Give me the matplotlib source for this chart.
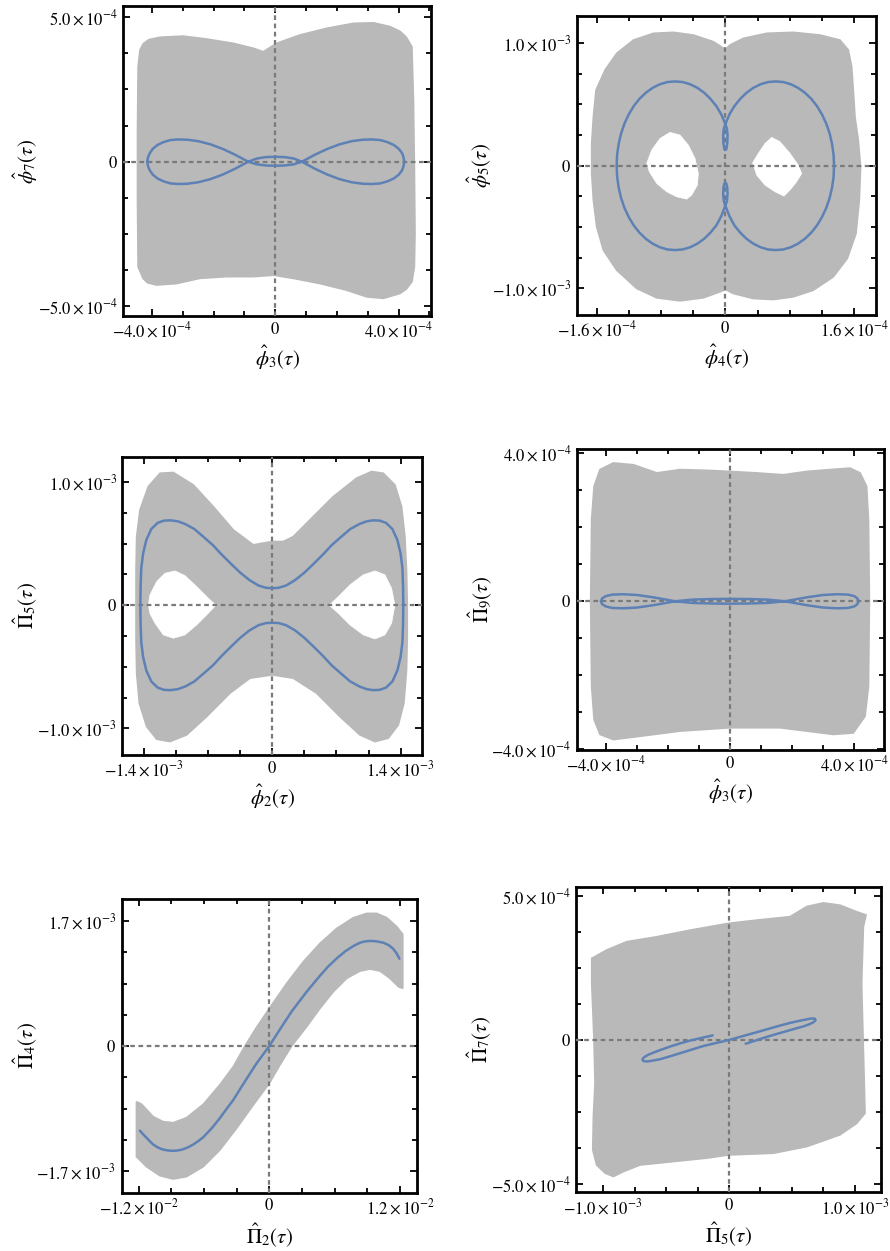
import matplotlib.pyplot as plt
from matplotlib.ticker import MultipleLocator

# Serif look for text and math
plt.rcParams['font.family'] = ['Liberation Serif', 'DejaVu Serif']
plt.rcParams['mathtext.fontset'] = 'stix'

GRAY = '#b9b9b9'
BLUE = '#5e81b5'
DASH = '#7a7a7a'

# ---------------- data ----------------
# panel 1: phi3 (x 1e-4) vs phi7 (x 1e-4)
p1_cloud = [(-4.39, 3.86), (-4.28, 4.08), (-4.10, 4.22), (-3.74, 4.30), (-2.99, 4.34),
            (-2.23, 4.24), (-1.36, 4.09), (-0.71, 3.92), (-0.39, 3.80), (0.04, 4.09),
            (0.80, 4.38), (1.67, 4.61), (2.53, 4.78), (3.18, 4.80), (3.72, 4.67), (4.05, 4.50),
            (4.25, 4.30), (4.43, 3.97), (4.48, 2.13), (4.51, -0.17), (4.53, -2.48),
            (4.51, -3.63), (4.43, -4.15), (4.25, -4.40), (4.05, -4.55), (3.51, -4.72),
            (2.97, -4.67), (2.32, -4.44), (1.45, -4.21), (0.58, -4.03), (-0.06, -3.92),
            (-0.71, -3.97), (-1.58, -3.97), (-2.45, -4.03), (-3.20, -4.21), (-3.85, -4.26),
            (-4.15, -4.18), (-4.29, -4.03), (-4.45, -3.63), (-4.47, -1.32), (-4.47, 0.98),
            (-4.45, 3.28)]
p1_orbit = [(-4.15, 0), (-4.13, 0.15), (-4.07, 0.30), (-3.97, 0.45), (-3.82, 0.58),
            (-3.62, 0.68), (-3.40, 0.75), (-3.15, 0.77), (-2.85, 0.76), (-2.50, 0.71),
            (-2.10, 0.60), (-1.70, 0.44), (-1.30, 0.24), (-0.88, 0), (-0.60, -0.09),
            (-0.30, -0.13), (0, -0.14), (0.30, -0.13), (0.60, -0.09), (0.86, 0),
            (1.28, -0.24), (1.68, -0.44), (2.08, -0.60), (2.48, -0.71), (2.83, -0.76),
            (3.13, -0.77), (3.40, -0.75), (3.63, -0.68), (3.84, -0.58), (4.00, -0.45),
            (4.11, -0.30), (4.16, -0.15), (4.18, 0), (4.16, 0.15), (4.11, 0.30), (4.00, 0.45),
            (3.84, 0.58), (3.63, 0.68), (3.40, 0.75), (3.13, 0.77), (2.83, 0.76), (2.48, 0.71),
            (2.08, 0.60), (1.68, 0.44), (1.28, 0.24), (0.86, 0), (0.60, 0.11), (0.30, 0.16),
            (0, 0.17), (-0.30, 0.16), (-0.60, 0.11), (-0.88, 0), (-1.30, -0.24),
            (-1.70, -0.44), (-2.10, -0.60), (-2.50, -0.71), (-2.85, -0.76), (-3.15, -0.77),
            (-3.40, -0.75), (-3.62, -0.68), (-3.82, -0.58), (-3.97, -0.45), (-4.07, -0.30),
            (-4.13, -0.15), (-4.15, 0)]

# panel 2: phi4 (x 1e-5) vs phi5 (x 1e-4)
p2_cloud = [(0, 9.48), (-1.49, 10.11), (-3.97, 10.65), (-6.46, 10.87), (-8.94, 10.79),
            (-11.42, 10.24), (-13.49, 9.16), (-14.94, 7.80), (-16.06, 6.17), (-16.39, 3.99),
            (-16.60, 1.82), (-16.60, -0.63), (-16.39, -2.80), (-15.98, -4.97), (-15.15, -6.88),
            (-13.49, -8.51), (-11.01, -10.0), (-8.53, -10.76), (-5.63, -11.01), (-2.73, -10.76),
            (-0.66, -10.27), (0, -10.08), (0.99, -10.41), (3.48, -10.82), (5.96, -10.90),
            (8.44, -10.68), (10.93, -10.14), (13.41, -9.05), (15.15, -7.55), (16.23, -5.52),
            (16.64, -2.80), (16.80, -0.08), (16.51, 2.09), (16.10, 3.99), (15.89, 6.17),
            (15.69, 8.07), (15.27, 9.43), (14.24, 10.24), (11.75, 10.65), (8.44, 10.87),
            (5.13, 10.79), (2.24, 10.38), (0.58, 9.84)]
p2_hole_left = [(-9.77, 0.19), (-9.15, 1.28), (-8.11, 2.23), (-6.87, 2.72), (-5.63, 2.5),
                (-4.59, 1.68), (-3.77, 0.6), (-3.35, -0.63), (-3.48, -1.58), (-4.18, -2.39),
                (-4.8, -2.72), (-6.04, -2.53), (-7.28, -2.12), (-8.53, -1.44), (-9.44, -0.49)]
p2_hole_right = [(3.39, 0.24), (4.1, 1.01), (4.93, 1.82), (5.75, 2.31), (6.79, 1.96),
                 (8.03, 1.01), (9.06, 0.05), (9.48, -0.63), (8.86, -1.3), (8.03, -1.98),
                 (7.28, -2.47), (6.17, -2.12), (4.93, -1.58), (3.89, -0.76)]
p2_orbit = [(0, 3.4), (-0.5, 4.18), (-1.12, 4.86), (-1.85, 5.45), (-2.63, 5.95), (-3.48, 6.35),
            (-4.37, 6.64), (-5.3, 6.82), (-6.25, 6.87), (-7.2, 6.82), (-8.13, 6.64),
            (-9.02, 6.35), (-9.88, 5.95), (-10.67, 5.45), (-11.38, 4.86), (-12.0, 4.18),
            (-12.53, 3.44), (-12.95, 2.63), (-13.25, 1.78), (-13.44, 0.9), (-13.5, 0),
            (-13.44, -0.9), (-13.25, -1.78), (-12.95, -2.63), (-12.53, -3.44), (-12.0, -4.18),
            (-11.38, -4.86), (-10.67, -5.45), (-9.88, -5.95), (-9.02, -6.35), (-8.13, -6.64),
            (-7.2, -6.82), (-6.25, -6.87), (-5.3, -6.82), (-4.37, -6.64), (-3.48, -6.35),
            (-2.63, -5.95), (-1.85, -5.45), (-1.12, -4.86), (-0.5, -4.1), (0, -3.25),
            (0.2, -2.85), (0.27, -2.3), (0.24, -1.8), (0.12, -1.45), (0, -1.39),
            (-0.12, -1.45), (-0.24, -1.8), (-0.27, -2.3), (-0.2, -2.85), (0, -3.25),
            (0.5, -4.1), (1.12, -4.86), (1.85, -5.45), (2.63, -5.95), (3.48, -6.35),
            (4.37, -6.64), (5.3, -6.82), (6.25, -6.87), (7.2, -6.82), (8.13, -6.64),
            (9.02, -6.35), (9.88, -5.95), (10.67, -5.45), (11.38, -4.86), (12.0, -4.18),
            (12.53, -3.44), (12.95, -2.63), (13.25, -1.78), (13.44, -0.9), (13.5, 0),
            (13.44, 0.9), (13.25, 1.78), (12.95, 2.63), (12.53, 3.44), (12.0, 4.18),
            (11.38, 4.86), (10.67, 5.45), (9.88, 5.95), (9.02, 6.35), (8.13, 6.64),
            (7.2, 6.82), (6.25, 6.87), (5.3, 6.82), (4.37, 6.64), (3.48, 6.35), (2.63, 5.95),
            (1.85, 5.45), (1.12, 4.86), (0.5, 4.18), (0, 3.4), (-0.2, 3.0), (-0.27, 2.45),
            (-0.24, 1.85), (-0.12, 1.35), (0, 1.28), (0.12, 1.35), (0.24, 1.85),
            (0.27, 2.45), (0.2, 3.0), (0, 3.4)]

# panel 3: phi2 (x 1e-4) vs Pi5 (x 1e-4)
p3_cloud = [(0, 5.18), (-2.07, 4.91), (-4.25, 6.12), (-6.44, 8.02), (-8.62, 9.78),
            (-10.8, 10.79), (-12.25, 10.73), (-13.53, 9.65), (-14.44, 7.75), (-14.8, 5.58),
            (-14.87, 2.87), (-14.87, 0), (-14.87, -2.82), (-14.8, -5.53), (-14.51, -7.97),
            (-13.71, -9.86), (-12.62, -10.89), (-11.16, -11.08), (-9.35, -10.54), (-7.16, -9.05),
            (-4.62, -7.15), (-2.44, -5.93), (0, -5.66), (2.29, -5.93), (4.84, -7.15),
            (7.38, -9.05), (9.56, -10.54), (11.2, -11.08), (12.65, -10.81), (13.75, -9.73),
            (14.36, -7.97), (14.65, -5.26), (14.73, -2.55), (14.73, 0), (14.65, 2.87),
            (14.47, 5.58), (14.11, 8.02), (13.38, 9.78), (12.11, 10.73), (10.84, 10.87),
            (9.2, 10.33), (6.65, 8.83), (4.47, 7.21), (2.29, 5.58), (1.2, 5.18)]
p3_hole_left = [(-13.53, 0), (-13.35, 0.84), (-12.62, 1.92), (-11.71, 2.6), (-10.62, 2.79),
                (-9.53, 2.41), (-8.25, 1.52), (-6.98, 0.57), (-6.15, 0), (-6.98, -0.65),
                (-8.25, -1.6), (-9.53, -2.41), (-10.8, -2.68), (-11.89, -2.41), (-12.8, -1.46),
                (-13.35, -0.68)]
p3_hole_right = [(6.22, 0), (7.2, 0.7), (8.47, 1.65), (9.93, 2.47), (11.2, 2.79), (12.29, 2.47),
                 (13.02, 1.38), (13.38, 0), (13.02, -1.46), (12.29, -2.41), (11.2, -2.74),
                 (9.93, -2.41), (8.47, -1.6), (7.2, -0.65)]
p3_orbit = [(14.29, 0), (14.27, 1.5), (14.2, 3.0), (14.0, 4.2), (13.65, 5.3), (13.1, 6.2),
            (12.4, 6.7), (11.7, 6.88), (11.0, 6.9), (10.3, 6.82), (9.5, 6.6), (8.5, 6.19),
            (7.5, 5.55), (6.5, 4.9), (5.5, 4.1), (4.5, 3.36), (3.5, 2.65), (2.5, 2.05),
            (1.5, 1.6), (0.7, 1.42), (0, 1.38), (-0.7, 1.42), (-1.5, 1.6), (-2.5, 2.05),
            (-3.5, 2.65), (-4.5, 3.36), (-5.5, 4.1), (-6.5, 4.9), (-7.5, 5.55), (-8.5, 6.19),
            (-9.5, 6.6), (-10.3, 6.82), (-11.1, 6.9), (-11.8, 6.88), (-12.5, 6.7),
            (-13.2, 6.2), (-13.75, 5.3), (-14.1, 4.2), (-14.3, 3.0), (-14.37, 1.5),
            (-14.4, 0), (-14.37, -1.5), (-14.3, -3.0), (-14.1, -4.2), (-13.75, -5.3),
            (-13.2, -6.2), (-12.5, -6.7), (-11.8, -6.88), (-11.1, -6.9), (-10.3, -6.82),
            (-9.5, -6.6), (-8.5, -6.19), (-7.5, -5.55), (-6.5, -4.9), (-5.5, -4.1),
            (-4.5, -3.36), (-3.5, -2.65), (-2.5, -2.05), (-1.5, -1.62), (-0.7, -1.45),
            (0, -1.42), (0.7, -1.45), (1.5, -1.62), (2.5, -2.05), (3.5, -2.65), (4.5, -3.36),
            (5.5, -4.1), (6.5, -4.9), (7.5, -5.55), (8.5, -6.19), (9.5, -6.6), (10.3, -6.82),
            (11.0, -6.9), (11.7, -6.88), (12.4, -6.7), (13.1, -6.2), (13.65, -5.3),
            (14.0, -4.2), (14.2, -3.0), (14.27, -1.5), (14.29, 0)]

# panel 4: phi3 (x 1e-4) vs Pi9 (x 1e-4)
p4_cloud = [(-4.46, 2.21), (-4.38, 3.11), (-4.19, 3.56), (-3.76, 3.74), (-3.11, 3.69),
            (-2.36, 3.47), (-1.61, 3.56), (-0.75, 3.54), (0, 3.51), (0.86, 3.47), (1.72, 3.42),
            (2.47, 3.51), (3.22, 3.56), (3.87, 3.6), (4.19, 3.47), (4.4, 3.11), (4.46, 2.21),
            (4.49, 0), (4.46, -2.3), (4.35, -3.11), (3.97, -3.56), (3.33, -3.6), (2.47, -3.51),
            (1.61, -3.42), (0, -3.42), (-1.61, -3.51), (-2.9, -3.65), (-3.76, -3.74),
            (-4.19, -3.6), (-4.38, -3.2), (-4.46, -2.3), (-4.49, 0)]
p4_orbit = [(-4.16, 0), (-4.12, 0.08), (-4.0, 0.14), (-3.8, 0.18), (-3.45, 0.19), (-3.0, 0.17),
            (-2.5, 0.11), (-2.1, 0.05), (-1.77, 0), (-1.2, -0.045), (-0.6, -0.06), (0, -0.065),
            (0.6, -0.06), (1.2, -0.045), (1.77, 0), (2.1, -0.05), (2.5, -0.11), (3.0, -0.17),
            (3.45, -0.19), (3.8, -0.18), (4.0, -0.14), (4.1, -0.08), (4.14, 0), (4.1, 0.08),
            (4.0, 0.14), (3.8, 0.18), (3.45, 0.19), (3.0, 0.17), (2.5, 0.11), (2.1, 0.05),
            (1.77, 0), (1.2, 0.045), (0.6, 0.06), (0, 0.065), (-0.6, 0.06), (-1.2, 0.045),
            (-1.77, 0), (-2.1, -0.05), (-2.5, -0.11), (-3.0, -0.17), (-3.45, -0.19),
            (-3.8, -0.18), (-4.0, -0.14), (-4.12, -0.08), (-4.16, 0)]

# panel 5: Pi2 (x 1e-3) vs Pi4 (x 1e-4)
p5_cloud = [(-12.21, -7.57), (-11.75, -7.89), (-10.67, -9.61), (-9.75, -10.29), (-8.83, -10.43),
            (-7.61, -9.75), (-6.07, -7.93), (-4.54, -5.26), (-3.31, -2.81), (-2.24, 0),
            (-1.17, 2.54), (0, 5.12), (1.6, 8.52), (3.13, 11.47), (4.66, 13.96), (6.2, 16.0),
            (7.73, 17.45), (8.96, 18.04), (9.88, 18.04), (10.8, 17.45), (11.72, 16.23),
            (12.27, 15.19), (12.27, 7.84), (11.87, 8.07), (11.1, 9.2), (10.18, 10.2),
            (9.26, 10.47), (8.34, 10.2), (7.12, 9.2), (5.89, 7.39), (4.66, 5.12), (3.44, 2.63),
            (2.06, 0), (0.98, -2.58), (0, -5.08), (-1.47, -8.02), (-3.01, -11.2),
            (-4.54, -14.14), (-6.07, -16.41), (-7.61, -17.77), (-8.83, -18.09),
            (-10.06, -17.63), (-11.29, -16.41), (-12.21, -15.05)]
p5_orbit = [(-11.9, -11.51), (-11.6, -12.0), (-11.29, -12.47), (-10.98, -12.95),
            (-10.67, -13.4), (-10.3, -13.75), (-9.9, -14.02), (-9.45, -14.18), (-9.0, -14.25),
            (-8.53, -14.23), (-8.0, -14.08), (-7.5, -13.8), (-7.0, -13.4), (-6.5, -12.9),
            (-6.07, -12.4), (-5.3, -11.2), (-4.54, -9.8), (-3.9, -8.5), (-3.31, -7.34),
            (-2.24, -4.81), (-1.17, -2.36), (0, 0), (0.98, 2.27), (2.06, 4.71), (3.44, 7.39),
            (4.06, 8.5), (4.66, 9.56), (5.4, 10.8), (6.2, 11.92), (7.0, 12.9), (7.73, 13.6),
            (8.34, 14.05), (8.7, 14.2), (9.11, 14.28), (9.5, 14.28), (9.88, 14.23),
            (10.49, 14.05), (11.0, 13.7), (11.41, 13.19), (11.7, 12.6), (11.96, 11.88)]

# panel 6: Pi5 (x 1e-4) vs Pi7 (x 1e-4)
p6_cloud = [(-10.91, 2.84), (-9.72, 3.13), (-8.13, 3.42), (-5.75, 3.59), (-3.1, 3.82),
            (0, 4.06), (2.2, 4.17), (4.85, 4.29), (6.17, 4.64), (7.5, 4.77), (8.82, 4.69),
            (10.15, 4.46), (10.89, 4.35), (10.68, 3.94), (10.54, 1.97), (10.68, -0.35),
            (10.81, -2.55), (10.15, -2.9), (8.82, -3.3), (6.17, -3.71), (3.52, -3.94),
            (0, -4.0), (-1.77, -4.11), (-4.42, -4.23), (-7.07, -4.35), (-8.4, -4.58),
            (-9.19, -4.75), (-9.85, -4.63), (-10.52, -4.35), (-10.83, -3.82), (-10.78, -2.67),
            (-10.65, -1.51), (-10.73, 0), (-10.91, 1.97)]
p6_orbit = [(-1.30, 0.16), (-2.2, 0.07), (-3.1, -0.02), (-3.9, -0.12), (-4.69, -0.23),
            (-5.4, -0.34), (-6.01, -0.44), (-6.45, -0.52), (-6.75, -0.6), (-6.88, -0.67),
            (-6.82, -0.73), (-6.54, -0.75), (-6.1, -0.72), (-5.48, -0.67), (-4.7, -0.57),
            (-3.89, -0.46), (-2.04, -0.21), (0, 0), (2.2, 0.27), (4.05, 0.5), (4.9, 0.6),
            (5.64, 0.67), (6.2, 0.72), (6.57, 0.75), (6.82, 0.74), (6.88, 0.69),
            (6.72, 0.62), (6.4, 0.55), (5.9, 0.47), (5.38, 0.41), (4.6, 0.31), (3.79, 0.21),
            (3.1, 0.12), (2.46, 0.03), (1.9, -0.05), (1.32, -0.13)]


def xy(points, sx, sy):
    return [p[0] * sx for p in points], [p[1] * sy for p in points]


def sci(v):
    # tick text like 5.0x10^-4
    if v == 0:
        return r'$0$'
    exp = 0
    m = abs(v)
    while m < 0.9999:
        m *= 10
        exp -= 1
    sign = '-' if v < 0 else ''
    return r'$%s%.1f\times 10^{%d}$' % (sign, m, exp)


fig = plt.figure(figsize=(8.9, 12.51), dpi=100)


def panel(rect, xlim, ylim, xmaj, xstep, ymaj, ystep, xlabel, ylabel,
          cloud, holes, orbit, sx, sy):
    ax = fig.add_axes(rect)
    cx, cy = xy(cloud, sx, sy)
    ax.fill(cx, cy, color=GRAY, lw=1.2, zorder=1)
    for h in holes:
        hx, hy = xy(h, sx, sy)
        ax.fill(hx, hy, color='white', lw=0.5, zorder=2)
    ax.axhline(0, color=DASH, lw=1.6, ls=(0, (2.1, 1.6)), zorder=3)
    ax.axvline(0, color=DASH, lw=1.6, ls=(0, (2.1, 1.6)), zorder=3)
    ox, oy = xy(orbit, sx, sy)
    ax.plot(ox, oy, color=BLUE, lw=1.8, solid_capstyle='round',
            solid_joinstyle='round', zorder=4)

    ax.set_xlim(xlim)
    ax.set_ylim(ylim)
    ax.set_xticks(xmaj)
    ax.set_xticklabels([sci(v) for v in xmaj])
    ax.set_yticks(ymaj)
    ax.set_yticklabels([sci(v) for v in ymaj])
    ax.xaxis.set_minor_locator(MultipleLocator(xstep))
    ax.yaxis.set_minor_locator(MultipleLocator(ystep))
    ax.tick_params(which='both', direction='in', top=True, right=True, width=1.3,
                   labelsize=12, pad=4)
    ax.tick_params(which='major', length=5)
    ax.tick_params(which='minor', length=3.5)
    for s in ax.spines.values():
        s.set_linewidth(2)

    w = rect[2] * 890
    h = rect[3] * 1251
    ax.set_xlabel(xlabel, fontsize=15)
    ax.set_ylabel(ylabel, fontsize=15)
    ax.xaxis.set_label_coords(0.5, -42 / h)
    ax.yaxis.set_label_coords(-97 / w, 0.5)
    ax.xaxis.label.set_verticalalignment('center')
    ax.yaxis.label.set_verticalalignment('center')
    return ax


panel([0.1382, 0.7474, 0.3461, 0.2478], (-4.94e-4, 5.05e-4), (-5.33e-4, 5.38e-4),
      [-4e-4, 0, 4e-4], 1e-4, [-5e-4, 0, 5e-4], 1.25e-4,
      r'$\hat{\phi}_3(\tau)$', r'$\hat{\phi}_7(\tau)$',
      p1_cloud, [], p1_orbit, 1e-4, 1e-4)

panel([0.648, 0.7482, 0.336, 0.239], (-1.846e-4, 1.868e-4), (-1.216e-3, 1.22e-3),
      [-1.6e-4, 0, 1.6e-4], 0.4e-4, [-1e-3, 0, 1e-3], 0.25e-3,
      r'$\hat{\phi}_4(\tau)$', r'$\hat{\phi}_5(\tau)$',
      p2_cloud, [p2_hole_left, p2_hole_right], p2_orbit, 1e-5, 1e-4)

panel([0.1374, 0.3965, 0.3371, 0.2385], (-1.637e-3, 1.637e-3), (-1.217e-3, 1.208e-3),
      [-1.4e-3, 0, 1.4e-3], 0.35e-3, [-1e-3, 0, 1e-3], 0.25e-3,
      r'$\hat{\phi}_2(\tau)$', r'$\hat{\Pi}_5(\tau)$',
      p3_cloud, [p3_hole_left, p3_hole_right], p3_orbit, 1e-4, 1e-4)

panel([0.648, 0.4005, 0.3456, 0.2404], (-4.94e-4, 4.97e-4), (-4.02e-4, 4.11e-4),
      [-4e-4, 0, 4e-4], 1e-4, [-4e-4, 0, 4e-4], 1e-4,
      r'$\hat{\phi}_3(\tau)$', r'$\hat{\Pi}_9(\tau)$',
      p4_cloud, [], p4_orbit, 1e-4, 1e-4)

panel([0.1367, 0.0466, 0.3315, 0.2348], (-1.357e-2, 1.355e-2), (-1.995e-3, 2.0e-3),
      [-1.2e-2, 0, 1.2e-2], 0.3e-2, [-1.7e-3, 0, 1.7e-3], 0.425e-3,
      r'$\hat{\Pi}_2(\tau)$', r'$\hat{\Pi}_4(\tau)$',
      p5_cloud, [], p5_orbit, 1e-3, 1e-4)

panel([0.6472, 0.0469, 0.3427, 0.2438], (-1.216e-3, 1.208e-3), (-5.3e-4, 5.31e-4),
      [-1e-3, 0, 1e-3], 0.25e-3, [-5e-4, 0, 5e-4], 1.25e-4,
      r'$\hat{\Pi}_5(\tau)$', r'$\hat{\Pi}_7(\tau)$',
      p6_cloud, [], p6_orbit, 1e-4, 1e-4)

fig.savefig('out.png', dpi=100)
